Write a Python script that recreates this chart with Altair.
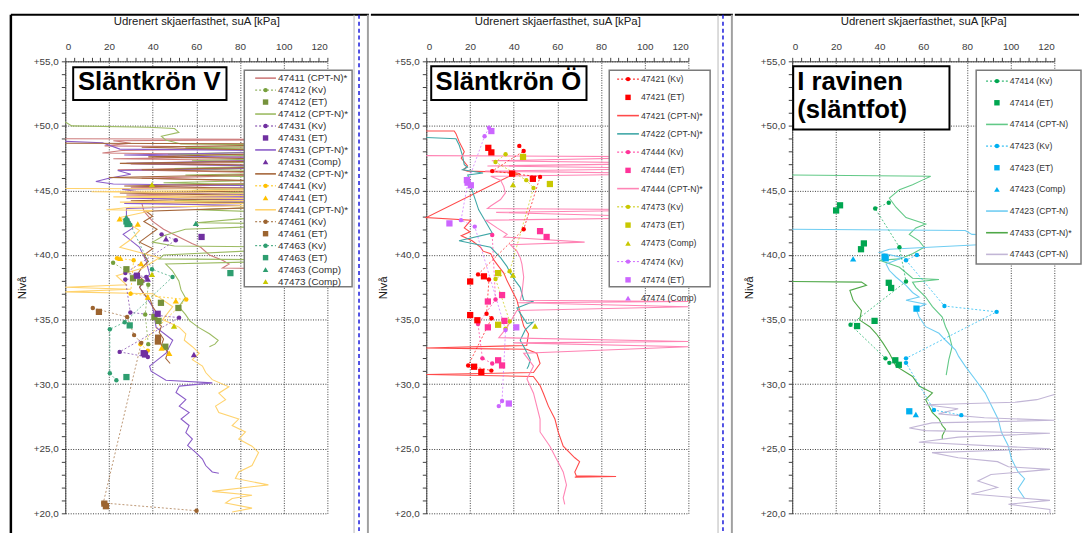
import altair as alt
import pandas as pd

FONT = "Liberation Sans"
W, H = 265, 457

# ---------------- Panel 1 : Släntkrön V ----------------
P1_47411_CPT = [(0, 49.0), (120, 48.95), (22, 48.85), (30, 48.65), (18, 48.45), (120, 48.3), (26, 48.1), (17, 47.9),
                (120, 47.7), (22, 47.45), (120, 47.25), (30, 47.05), (120, 46.85), (24, 46.6), (120, 46.3), (35, 45.95),
                (120, 45.6), (30, 45.25), (120, 44.95), (28, 44.65), (120, 44.35), (35, 44.05), (36, 43.4), (40, 42.6),
                (45, 42.0), (52, 41.4), (58, 40.9), (62, 40.6), (66, 40.0), (72, 39.6), (75, 39.3), (72, 39.0), (120, 38.9)]
P1_47412_KV = [(21.9, 39.4), (38.0, 37.7), (36.6, 35.4), (38.0, 33.1)]
P1_47412_ET = [(28, 38.9), (31, 38.2), (34.3, 37.9), (43.8, 36.3), (51.8, 35.9), (40.8, 35.2), (42.7, 34.9), (45.8, 32.9)]
P1_47412_CPT = [(0, 50.3), (3, 50.0), (38, 49.9), (50, 49.8), (52, 49.5), (44, 49.2), (46, 48.9), (53, 48.6), (120, 48.5),
                (55, 48.3), (120, 48.1), (47, 47.8), (120, 47.6), (58, 47.3), (120, 47.0), (50, 46.7), (120, 46.4),
                (55, 46.2), (120, 45.9), (45, 45.6), (120, 45.3), (58, 45.0), (120, 44.5), (50, 44.2), (120, 43.9),
                (60, 43.5), (120, 43.2), (80, 42.8), (60, 42.5), (120, 42.4), (55, 42.0), (45, 41.5), (40, 41.0),
                (50, 40.7), (120, 40.6), (45, 40.0), (43, 39.7), (120, 39.6), (46, 39.3), (49, 38.8), (52, 38.0),
                (53, 37.3), (55, 36.7), (52, 36.0), (55, 35.4), (57, 34.9), (61, 34.4), (66, 33.9), (70, 33.4),
                (68.5, 33.1), (66, 32.9)]
P1_47431_KV = [(44.1, 41.6), (50.6, 41.15), (27.5, 38.6), (37.1, 38.3), (27.5, 38.1), (29.8, 35.55), (52.1, 35.15),
               (24.9, 32.5), (37.8, 32.1)]
P1_47431_ET = [(62.4, 41.4), (32.8, 38.4), (42.3, 35.45), (35.9, 32.4), (36.5, 32.3)]
P1_47431_CPT = [(0, 48.8), (17, 48.7), (25, 48.2), (120, 48.05), (27, 47.75), (120, 47.45), (28, 47.1), (120, 46.8),
                (24, 46.55), (30, 46.25), (20, 45.95), (14, 45.7), (22, 45.5), (120, 45.3), (26, 45.1), (35, 44.85),
                (120, 44.6), (28, 44.4), (120, 44.2), (27, 44.0), (80, 43.85), (28, 43.6), (28, 43.1), (31, 42.1),
                (26.5, 41.6), (34, 40.6), (37, 39.55), (38.6, 38.5), (34, 37.5), (40, 36.0), (41.6, 34.4), (49.2, 33.4),
                (46.1, 32.4), (38.6, 31.4), (39.3, 31.0), (46.1, 30.3), (67.3, 30.1), (52.2, 29.85), (50.7, 29.35),
                (55.2, 28.8), (52.2, 28.3), (56.7, 27.8), (53, 27.3), (56.7, 26.8), (55.2, 26.25), (58.2, 25.75),
                (56, 25.25), (59.8, 24.7), (62.8, 24.2), (64.3, 23.7), (67.3, 23.2), (70.3, 23.1)]
P1_47431_COMP = [(46.1, 41.25), (37.8, 38.15), (58.9, 32.3)]
P1_47432_CPT = [(0, 48.65), (120, 48.6), (35, 48.35), (120, 48.0), (38, 47.6), (120, 47.35), (25, 47.1), (120, 46.9),
                (35, 46.6), (120, 46.35), (20, 46.0), (120, 45.65), (27, 45.35), (120, 45.05), (25, 44.8), (120, 44.5),
                (30, 44.2), (120, 43.85), (37, 43.4), (40, 43.0), (36, 42.6), (42, 42.0), (38, 41.5), (34, 41.0),
                (40, 40.5), (36, 40.0), (38, 39.5), (35, 39.0), (33, 38.5), (36, 38.0), (34, 37.5), (36, 37.0),
                (39, 36.5), (40, 36.0), (42, 35.5), (41, 35.0), (44, 34.5), (43, 34.0), (45, 33.5), (44, 33.0),
                (47, 32.5), (46, 32.0), (48, 31.6)]
P1_47441_KV = [(23.7, 39.75), (31.3, 39.6), (29.9, 37.0), (55.4, 36.55), (34.4, 33.1), (37.8, 32.6)]
P1_47441_ET = [(24.9, 42.8), (33.2, 42.4), (25.2, 39.75), (34.7, 39.35), (37.8, 36.75), (50.6, 36.45), (44.1, 32.8),
               (47.6, 32.4)]
P1_47441_CPT = [(0, 45.15), (120, 45.1), (12, 44.9), (120, 44.7), (22, 44.5), (120, 44.3), (25, 44.1), (120, 43.9),
                (30, 43.7), (18.9, 43.5), (40, 43.45), (25, 42.9), (34, 41.9), (30, 41.2), (25, 40.6), (43.1, 39.8),
                (35.6, 39.0), (23.4, 38.4), (28, 37.7), (0, 37.5), (30, 37.35), (0, 37.15), (40, 37.0), (43.1, 36.7),
                (49.2, 36.0), (44.6, 35.0), (52.2, 34.4), (55.2, 33.9), (54.5, 33.4), (58.2, 32.9), (61.3, 32.4),
                (58.2, 31.9), (62.8, 31.4), (64.3, 30.9), (67.3, 30.35), (74.9, 29.8), (70.3, 29.3), (73.4, 28.8),
                (68.8, 28.3), (70.3, 27.8), (79.4, 27.3), (76.4, 26.8), (82.5, 26.3), (79.4, 25.75), (85.5, 25.2),
                (88.5, 24.7), (87, 24.2), (85.5, 23.7), (79.4, 23.2), (77.9, 22.7), (93, 22.2), (67.3, 21.7),
                (85.5, 21.4), (76.4, 21.15), (73.4, 20.8), (85.5, 20.4), (76.4, 20.1)]
P1_47461_KV = [(12.6, 35.9), (28.3, 35.2), (31.5, 33.8), (34.8, 33.2), (17.4, 20.8), (60.1, 20.2)]
P1_47461_ET = [(15.4, 35.6), (42.5, 33.6), (42.4, 33.3), (17.9, 20.75), (18.6, 20.55)]
P1_47463_KV = [(29.8, 42.35), (39.7, 38.9), (49.1, 38.3), (27.2, 34.8), (20.4, 34.25), (20.4, 30.85), (23.4, 30.3)]
P1_47463_ET = [(28, 42.6), (28.5, 42.4), (75.6, 38.6), (29.5, 34.55), (28, 30.55)]
P1_47463_COMP = [(27.9, 42.9), (59.8, 42.45)]
P1_47473_COMP = [(39.7, 45.45), (39.7, 38.5), (49.8, 34.5)]

# ---------------- Panel 2 : Släntkrön Ö ----------------
P2_47421_KV = [(42.6, 48.45), (44.6, 48.05), (30.2, 46.5), (52.1, 46.05), (44.6, 42.0), (23.7, 38.5), (28.7, 38.1),
               (27.6, 35.45), (29.9, 35.1), (19.2, 31.45), (29.8, 31.05)]
P2_47421_ET = [(28.4, 48.3), (29.8, 47.95), (39.3, 46.3), (48.8, 45.9), (26.4, 38.35), (20.1, 37.95), (20.1, 35.35),
               (23.4, 34.95), (21.9, 31.35), (25.2, 30.95)]
P2_47421_CPT = [(0, 49.6), (12.8, 49.6), (13.6, 49.4), (15, 48.8), (17.4, 48.0), (16, 47.5), (18.9, 46.9), (17, 46.6),
                (18.9, 46.5), (40, 46.4), (43, 46.3), (38, 46.1), (0, 42.9), (20.4, 42.7), (17.4, 42.1), (20, 41.8),
                (16, 41.5), (21, 41.1), (24.9, 40.6), (26, 40.3), (29.5, 40.1), (31, 39.6), (33.2, 39.1), (35.5, 38.6),
                (37, 38.0), (38.5, 37.5), (40, 37.0), (41.5, 36.5), (43, 35.5), (44.6, 34.5), (46.8, 33.9), (46, 33.0),
                (0, 32.8), (46, 32.7), (50.6, 32.4), (52.1, 31.6), (49.1, 30.9), (0, 30.75), (49, 30.6), (52.1, 29.9),
                (53.6, 29.3), (55.9, 28.3), (58.9, 27.3), (60.4, 26.3), (62.7, 25.2), (68, 24.3), (70.2, 24.0),
                (68, 23.2), (68.7, 22.9), (86.9, 22.85), (68, 22.8)]
P2_47422_CPT = [(0, 49.1), (13.6, 49.0), (15.1, 48.5), (16.6, 47.7), (17.4, 47.0), (18.9, 46.8), (16.6, 46.6),
                (26, 46.35), (19, 46.2), (21, 45.0), (24, 43.5), (30.2, 41.7), (15, 41.1), (29.5, 40.6), (34, 39.8),
                (37, 39.1), (38.5, 38.6), (40.8, 38.0), (43, 37.5), (44.6, 36.5), (49.1, 36.4), (41.5, 35.9),
                (43, 35.5), (46.1, 34.7), (48.9, 34.8), (45.3, 34.2), (43, 33.4), (45.3, 32.7), (47.6, 31.9),
                (46.8, 31.4), (46.1, 31.2)]
P2_47444_KV = [(30.2, 41.55), (31.7, 36.55), (23.7, 34.65), (25.7, 32.0), (30.2, 31.6)]
P2_47444_ET = [(52.1, 41.85), (55.1, 41.4), (34.7, 36.9), (28.2, 36.4), (35.8, 34.9), (28.2, 34.4), (32.9, 31.85),
               (34.7, 31.45)]
P2_47444_CPT = [(0, 47.7), (120, 47.6), (30, 47.3), (120, 47.1), (28, 46.9), (120, 46.7), (27, 46.5), (120, 46.3),
                (29.5, 46.1), (34, 45.8), (35.5, 45.3), (36.2, 44.8), (34, 44.3), (29.5, 43.8), (28, 43.6), (120, 43.5),
                (32, 43.3), (120, 42.9), (27.2, 42.7), (32.4, 42.1), (37, 41.6), (35.5, 41.4), (72.5, 41.0),
                (38.5, 40.8), (41.5, 40.3), (43, 39.8), (43.8, 39.3), (44.6, 38.3), (43.8, 37.0), (43, 36.5),
                (120, 36.4), (42, 36.3), (120, 36.0), (41.5, 35.7), (37, 34.4), (33.2, 33.6), (120, 33.3), (40, 33.2),
                (120, 32.9), (44.6, 32.4), (49.1, 31.4), (46.1, 30.4), (49.1, 29.3), (50.6, 28.3), (52.1, 27.3),
                (52.1, 26.3), (56.6, 25.2), (59.6, 24.2), (61.2, 23.7), (62.7, 23.2), (64.2, 22.2), (62.7, 21.2),
                (63.4, 20.7)]
P2_47473_KV = [(36.3, 47.8), (31.7, 47.2), (45.8, 45.8), (49.1, 45.2), (38.2, 38.75), (31.7, 38.15), (38.2, 34.85),
               (36.3, 34.3)]
P2_47473_ET = [(44.3, 47.6), (56.6, 45.5), (32.9, 38.6), (32.9, 34.6)]
P2_47473_COMP = [(39.7, 45.45), (39.7, 38.45), (49.8, 34.5)]
P2_47474_KV = [(28.7, 49.85), (26.7, 49.2), (19.2, 45.75), (15.9, 42.7), (22.2, 42.2), (36.3, 34.2), (34.7, 28.7),
               (33.2, 28.3)]
P2_47474_ET = [(29.8, 49.6), (18.6, 45.8), (18.9, 45.6), (20.4, 45.4), (10.6, 42.45), (41.2, 34.4), (37.8, 28.5)]
P2_47474_COMP = [(18.6, 45.9)]

# ---------------- Panel 3 : I ravinen (släntfot) ----------------
P3_47414_KV = [(44.2, 44.05), (38.0, 43.6), (49.1, 40.6), (52.1, 37.95), (26.7, 34.6), (42.7, 32.0), (44.5, 31.65)]
P3_47414_ET = [(20.1, 43.45), (21.9, 43.85), (32.8, 40.9), (31.5, 40.45), (44.2, 37.85), (45.3, 37.45), (37.7, 34.9),
               (29.7, 34.5), (47.2, 31.85), (48.8, 31.5)]
P3_47414_CPT = [(0, 46.2), (63.4, 46.1), (59.6, 45.8), (55.1, 45.45), (49.1, 45.06), (44.5, 44.4), (47.5, 43.7),
                (52.1, 42.9), (61.1, 42.4), (56.6, 42.1), (53.6, 41.6), (58.1, 41.1), (60.4, 40.6), (55.1, 40.1),
                (49.1, 39.7), (40, 39.6), (49.1, 39.05), (55.1, 38.2), (67.2, 38.1), (55.1, 37.9), (56.6, 37.5),
                (61.1, 36.75), (64.2, 36.0), (68.7, 35.2), (70.2, 34.45), (71.7, 33.9), (73.2, 32.9), (71.7, 31.9),
                (70.5, 30.7)]
P3_47423_KV = [(57.1, 40.0), (52.1, 39.6), (69.7, 36.05), (93.6, 35.6), (52.1, 32.0), (52.1, 31.65), (64.9, 28.0),
               (77.4, 27.6)]
P3_47423_ET = [(42.3, 39.85), (42.8, 39.75), (56.9, 35.85), (53.6, 27.9)]
P3_47423_COMP = [(27.9, 39.7), (56.6, 27.65)]
P3_47423_CPT = [(0, 42.0), (79.2, 41.9), (82.3, 41.6), (120, 41.4), (100, 41.3), (120, 41.1), (44.5, 40.45),
                (40, 40.2), (50.6, 39.8), (43, 39.3), (44.5, 38.8), (47.5, 38.3), (52.1, 37.65), (55.1, 37.1),
                (58.1, 36.75), (52.1, 36.5), (61.1, 36.2), (56.6, 35.85), (58.1, 35.2), (61.1, 34.45), (67.2, 33.94),
                (70.2, 33.4), (74.7, 32.66), (76.2, 32.15), (79.2, 31.4), (83.8, 30.36), (88.3, 29.33), (91.3, 28.31),
                (94.3, 27.29), (95.8, 26.27), (98.9, 25.24), (100.4, 24.22), (103.4, 23.2), (106.4, 22.68),
                (103.4, 21.9), (106.4, 21.15)]
P3_47433_CPT = [(0, 37.95), (31.7, 37.9), (34, 37.65), (26.4, 37.26), (27.9, 36.5), (31.7, 35.7), (30.9, 34.96),
                (35.5, 34.45), (38.5, 33.9), (41.5, 33.2), (44.5, 32.4), (47.5, 31.4), (55.1, 30.6), (58.1, 29.85),
                (64.2, 29.33), (61.1, 28.8), (62.6, 28.3), (64.2, 27.8), (67.2, 27.3), (68.7, 26.8), (70.2, 26.5),
                (68.7, 26.0), (68.7, 25.75)]
P3_47443_CPT = [(120, 29.2), (112, 28.8), (102, 28.6), (61, 28.4), (76, 28.1), (67, 27.7), (88, 27.4), (120, 27.2),
                (64, 27.0), (53.6, 26.6), (61, 26.4), (118, 26.2), (76, 25.9), (58, 25.5), (94, 25.2), (118, 25.0),
                (64, 24.7), (76, 24.3), (94, 24.0), (99, 23.6), (118, 23.4), (91, 23.0), (85, 22.5), (94, 22.0),
                (82, 21.5), (103, 21.2), (118, 21.0), (99, 20.7), (118, 20.3), (118, 20.0)]

# legend entries: (label, colour, data) in legend order
P1_ENTRIES = [
    ("47411 (CPT-N)*", "#cd7b7b", P1_47411_CPT),
    ("47412 (Kv)", "#77a03c", P1_47412_KV),
    ("47412 (ET)", "#76923c", P1_47412_ET),
    ("47412 (CPT-N)*", "#9cbb62", P1_47412_CPT),
    ("47431 (Kv)", "#7030a0", P1_47431_KV),
    ("47431 (ET)", "#7030a0", P1_47431_ET),
    ("47431 (CPT-N)*", "#8a5cc8", P1_47431_CPT),
    ("47431 (Comp)", "#7030a0", P1_47431_COMP),
    ("47432 (CPT-N)*", "#a5663a", P1_47432_CPT),
    ("47441 (Kv)", "#ffc000", P1_47441_KV),
    ("47441 (ET)", "#ffc000", P1_47441_ET),
    ("47441 (CPT-N)*", "#ffd36e", P1_47441_CPT),
    ("47461 (Kv)", "#9c6430", P1_47461_KV),
    ("47461 (ET)", "#9c6430", P1_47461_ET),
    ("47463 (Kv)", "#2e9e70", P1_47463_KV),
    ("47463 (ET)", "#2e9e70", P1_47463_ET),
    ("47463 (Comp)", "#2e9e70", P1_47463_COMP),
    ("47473 (Comp)", "#c8c800", P1_47473_COMP),
]
P2_ENTRIES = [
    ("47421 (Kv)", "#ff0000", P2_47421_KV),
    ("47421 (ET)", "#ff0000", P2_47421_ET),
    ("47421 (CPT-N)*", "#ff4a4a", P2_47421_CPT),
    ("47422 (CPT-N)*", "#3fa7a7", P2_47422_CPT),
    ("47444 (Kv)", "#ff3399", P2_47444_KV),
    ("47444 (ET)", "#ff3399", P2_47444_ET),
    ("47444 (CPT-N)*", "#ff85b5", P2_47444_CPT),
    ("47473 (Kv)", "#c8c800", P2_47473_KV),
    ("47473 (ET)", "#c8c800", P2_47473_ET),
    ("47473 (Comp)", "#c8c800", P2_47473_COMP),
    ("47474 (Kv)", "#cc66ff", P2_47474_KV),
    ("47474 (ET)", "#cc66ff", P2_47474_ET),
    ("47474 (Comp)", "#cc66ff", P2_47474_COMP),
]
P3_ENTRIES = [
    ("47414 (Kv)", "#00a650", P3_47414_KV),
    ("47414 (ET)", "#00a650", P3_47414_ET),
    ("47414 (CPT-N)", "#62c987", P3_47414_CPT),
    ("47423 (Kv)", "#00b0f0", P3_47423_KV),
    ("47423 (ET)", "#00b0f0", P3_47423_ET),
    ("47423 (Comp)", "#00b0f0", P3_47423_COMP),
    ("47423 (CPT-N)", "#6fcdf2", P3_47423_CPT),
    ("47433 (CPT-N)*", "#4fa848", P3_47433_CPT),
    ("47443 (CPT-N)", "#c2b6d6", P3_47443_CPT),
]
# ET series drawn with a triangle marker in the original
TRIANGLE_ET = ["47441 (ET)"]

TITLES = ["Släntkrön V", "Släntkrön Ö", ["I ravinen", "(släntfot)"]]
X_TICKS = list(range(0, 121, 4))
Y_TICKS = list(range(20, 56))
X_TITLE = "Udrenert skjaerfasthet, suA [kPa]"
Y_TITLE = "Nivå"

ONE = pd.DataFrame({"a": [0]})


def kind_of(label):
    if "(Kv)" in label:
        return "kv"
    if label in TRIANGLE_ET:
        return "comp"
    if "(ET)" in label:
        return "et"
    if "(Comp)" in label:
        return "comp"
    return "cpt"


def x_axis():
    return alt.Axis(orient="top", title=X_TITLE, values=X_TICKS,
                    labelExpr="datum.value % 20 === 0 ? datum.label : ''",
                    grid=True,
                    gridOpacity={"condition": {"test": "datum.value % 20 === 0", "value": 1}, "value": 0},
                    gridDash=[1, 1.5], gridColor="#3c3c3c", gridWidth=1,
                    tickSize=4, labelPadding=6, titlePadding=15, labelOverlap=False)


def y_axis():
    return alt.Axis(orient="left", title=Y_TITLE, values=Y_TICKS,
                    labelExpr="datum.value % 5 === 0 ? '+' + replace(format(datum.value, '.1f'), '.', ',') : ''",
                    grid=True,
                    gridOpacity={"condition": {"test": "datum.value % 5 === 0", "value": 1}, "value": 0},
                    gridDash=[1, 1.5], gridColor="#3c3c3c", gridWidth=1,
                    tickSize=4, labelPadding=3, titlePadding=6, labelOverlap=False)


def rule(x, y, x2=None, y2=None, color="black", width=1.0, dash=None):
    kw = dict(color=color, strokeWidth=width)
    if dash:
        kw["strokeDash"] = dash
    enc = dict(x=alt.value(x), y=alt.value(y))
    if x2 is not None:
        enc["x2"] = alt.value(x2)
    if y2 is not None:
        enc["y2"] = alt.value(y2)
    return alt.Chart(ONE).mark_rule(**kw).encode(**enc)


def make_panel(entries, leg, title, tbox, tpos, talign, frame):
    labels = [e[0] for e in entries]
    colors = [e[1] for e in entries]
    cs = alt.Scale(domain=labels, range=colors)
    rows = []
    for lab, col, pts in entries:
        k = kind_of(lab)
        for i, (v, l) in enumerate(pts):
            rows.append({"s": lab, "k": k, "v": v, "lev": l, "i": i})
    df = pd.DataFrame(rows)
    xe = alt.X("v:Q", scale=alt.Scale(domain=[0, 120], nice=False, zero=False), axis=x_axis())
    ye = alt.Y("lev:Q", scale=alt.Scale(domain=[20, 55], nice=False, zero=False), axis=y_axis())
    ce = alt.Color("s:N", scale=cs, legend=None)
    base = alt.Chart(df)
    layers = [
        base.transform_filter("datum.k == 'cpt'").mark_line(strokeWidth=1.1).encode(
            x=xe, y=ye, color=ce, detail="s:N", order="i:Q"),
        base.transform_filter("datum.k == 'kv'").mark_line(strokeWidth=0.9, strokeDash=[2, 2], opacity=0.75).encode(
            x=xe, y=ye, color=ce, detail="s:N", order="i:Q"),
        base.transform_filter("datum.k == 'kv'").mark_circle(size=20, opacity=1).encode(x=xe, y=ye, color=ce),
        base.transform_filter("datum.k == 'et'").mark_square(size=40, opacity=1).encode(x=xe, y=ye, color=ce),
        base.transform_filter("datum.k == 'comp'").mark_point(shape="triangle-up", filled=True, size=40,
                                                              opacity=1).encode(x=xe, y=ye, color=ce),
    ]
    # legend
    lrows = []
    for idx, (lab, col, _) in enumerate(entries):
        lrows.append({"s": lab, "k": kind_of(lab), "ly": leg["ey0"] + idx * leg["dy"],
                      "lx0": leg["sx0"], "lx1": leg["sx1"], "lxc": (leg["sx0"] + leg["sx1"]) / 2,
                      "tx": leg["tx"]})
    ldf = pd.DataFrame(lrows)
    lb = alt.Chart(ldf)
    LY = alt.Y("ly:Q", scale=None, axis=None)
    LX0 = alt.X("lx0:Q", scale=None, axis=None)
    LXC = alt.X("lxc:Q", scale=None, axis=None)
    TX = alt.X("tx:Q", scale=None, axis=None)
    layers += [
        alt.Chart(ONE).mark_rect(fill="white", stroke="#7a7a7a", strokeWidth=1.5).encode(
            x=alt.value(leg["bx0"]), x2=alt.value(leg["bx1"]), y=alt.value(leg["by0"]), y2=alt.value(leg["by1"])),
        lb.transform_filter("datum.k == 'cpt'").mark_rule(strokeWidth=1.6).encode(
            x=LX0, x2="lx1:Q", y=LY, color=ce),
        lb.transform_filter("datum.k == 'kv'").mark_rule(strokeWidth=1, strokeDash=[2, 2]).encode(
            x=LX0, x2="lx1:Q", y=LY, color=ce),
        lb.transform_filter("datum.k == 'kv'").mark_circle(size=20, opacity=1).encode(x=LXC, y=LY, color=ce),
        lb.transform_filter("datum.k == 'et'").mark_square(size=30, opacity=1).encode(x=LXC, y=LY, color=ce),
        lb.transform_filter("datum.k == 'comp'").mark_point(shape="triangle-up", filled=True, size=32,
                                                            opacity=1).encode(x=LXC, y=LY, color=ce),
        lb.mark_text(align="left", baseline="middle", font=FONT, fontSize=leg["fs"], color="#333333").encode(
            x=TX, y=LY, text="s:N"),
    ]
    # title box
    layers += [
        alt.Chart(ONE).mark_rect(fill="white", stroke="black", strokeWidth=2).encode(
            x=alt.value(tbox[0]), x2=alt.value(tbox[1]), y=alt.value(tbox[2]), y2=alt.value(tbox[3])),
        alt.Chart(ONE).mark_text(text=title, font=FONT, fontSize=26, fontWeight="bold", align=talign,
                                 baseline="alphabetic", lineHeight=28, color="black").encode(
            x=alt.value(tpos[0]), y=alt.value(tpos[1])),
    ]
    layers += frame
    return alt.layer(*layers).properties(width=W, height=H)


BOT = 480
p1 = make_panel(
    P1_ENTRIES,
    dict(bx0=181, bx1=290, by0=9, by1=228, ey0=17, dy=12.1, sx0=192, sx1=213, tx=215, fs=10),
    TITLES[0], (8, 163, 6, 39), (85, 29), "center",
    [rule(-55, -47, x2=307, width=2),
     rule(-55, -47, y2=BOT, width=2.5),
     rule(292, -47, y2=BOT, color="#b8b8b8", width=1),
     rule(297, -47, y2=BOT, color="#1a1adc", width=1.5, dash=[4, 3]),
     rule(306, -47, y2=BOT, color="#a0a0a0", width=2)])
p2 = make_panel(
    P2_ENTRIES,
    dict(bx0=185, bx1=287, by0=9, by1=228, ey0=18, dy=18.45, sx0=193, sx1=215, tx=217, fs=8.8),
    TITLES[1], (5, 162, 5, 39), (83, 29), "center",
    [rule(-56, -47, x2=310, width=2),
     rule(295, -47, y2=BOT, color="#b8b8b8", width=1),
     rule(300, -47, y2=BOT, color="#1a1adc", width=1.5, dash=[4, 3]),
     rule(309, -47, y2=BOT, color="#a0a0a0", width=2)])
p3 = make_panel(
    P3_ENTRIES,
    dict(bx0=186, bx1=292, by0=9, by1=205, ey0=20, dy=21.9, sx0=196, sx1=218, tx=220, fs=8.8),
    TITLES[2], (1, 159, 5, 69), (5, 29), "left",
    [rule(-58, -47, x2=290, width=2)])

chart = alt.hconcat(p1, p2, p3, spacing=0).resolve_scale(color="independent").properties(
    padding={"left": 9, "top": 10, "right": 0, "bottom": 0}, background="white"
).configure_view(stroke=None).configure_axis(
    labelFont=FONT, titleFont=FONT, labelFontSize=10, labelColor="#404040",
    titleFontSize=11.5, titleFontWeight="normal", titleColor="#202020",
    domainColor="#404040", tickColor="#404040")

chart.save("out.html", embed_options={"renderer": "svg", "actions": False})
